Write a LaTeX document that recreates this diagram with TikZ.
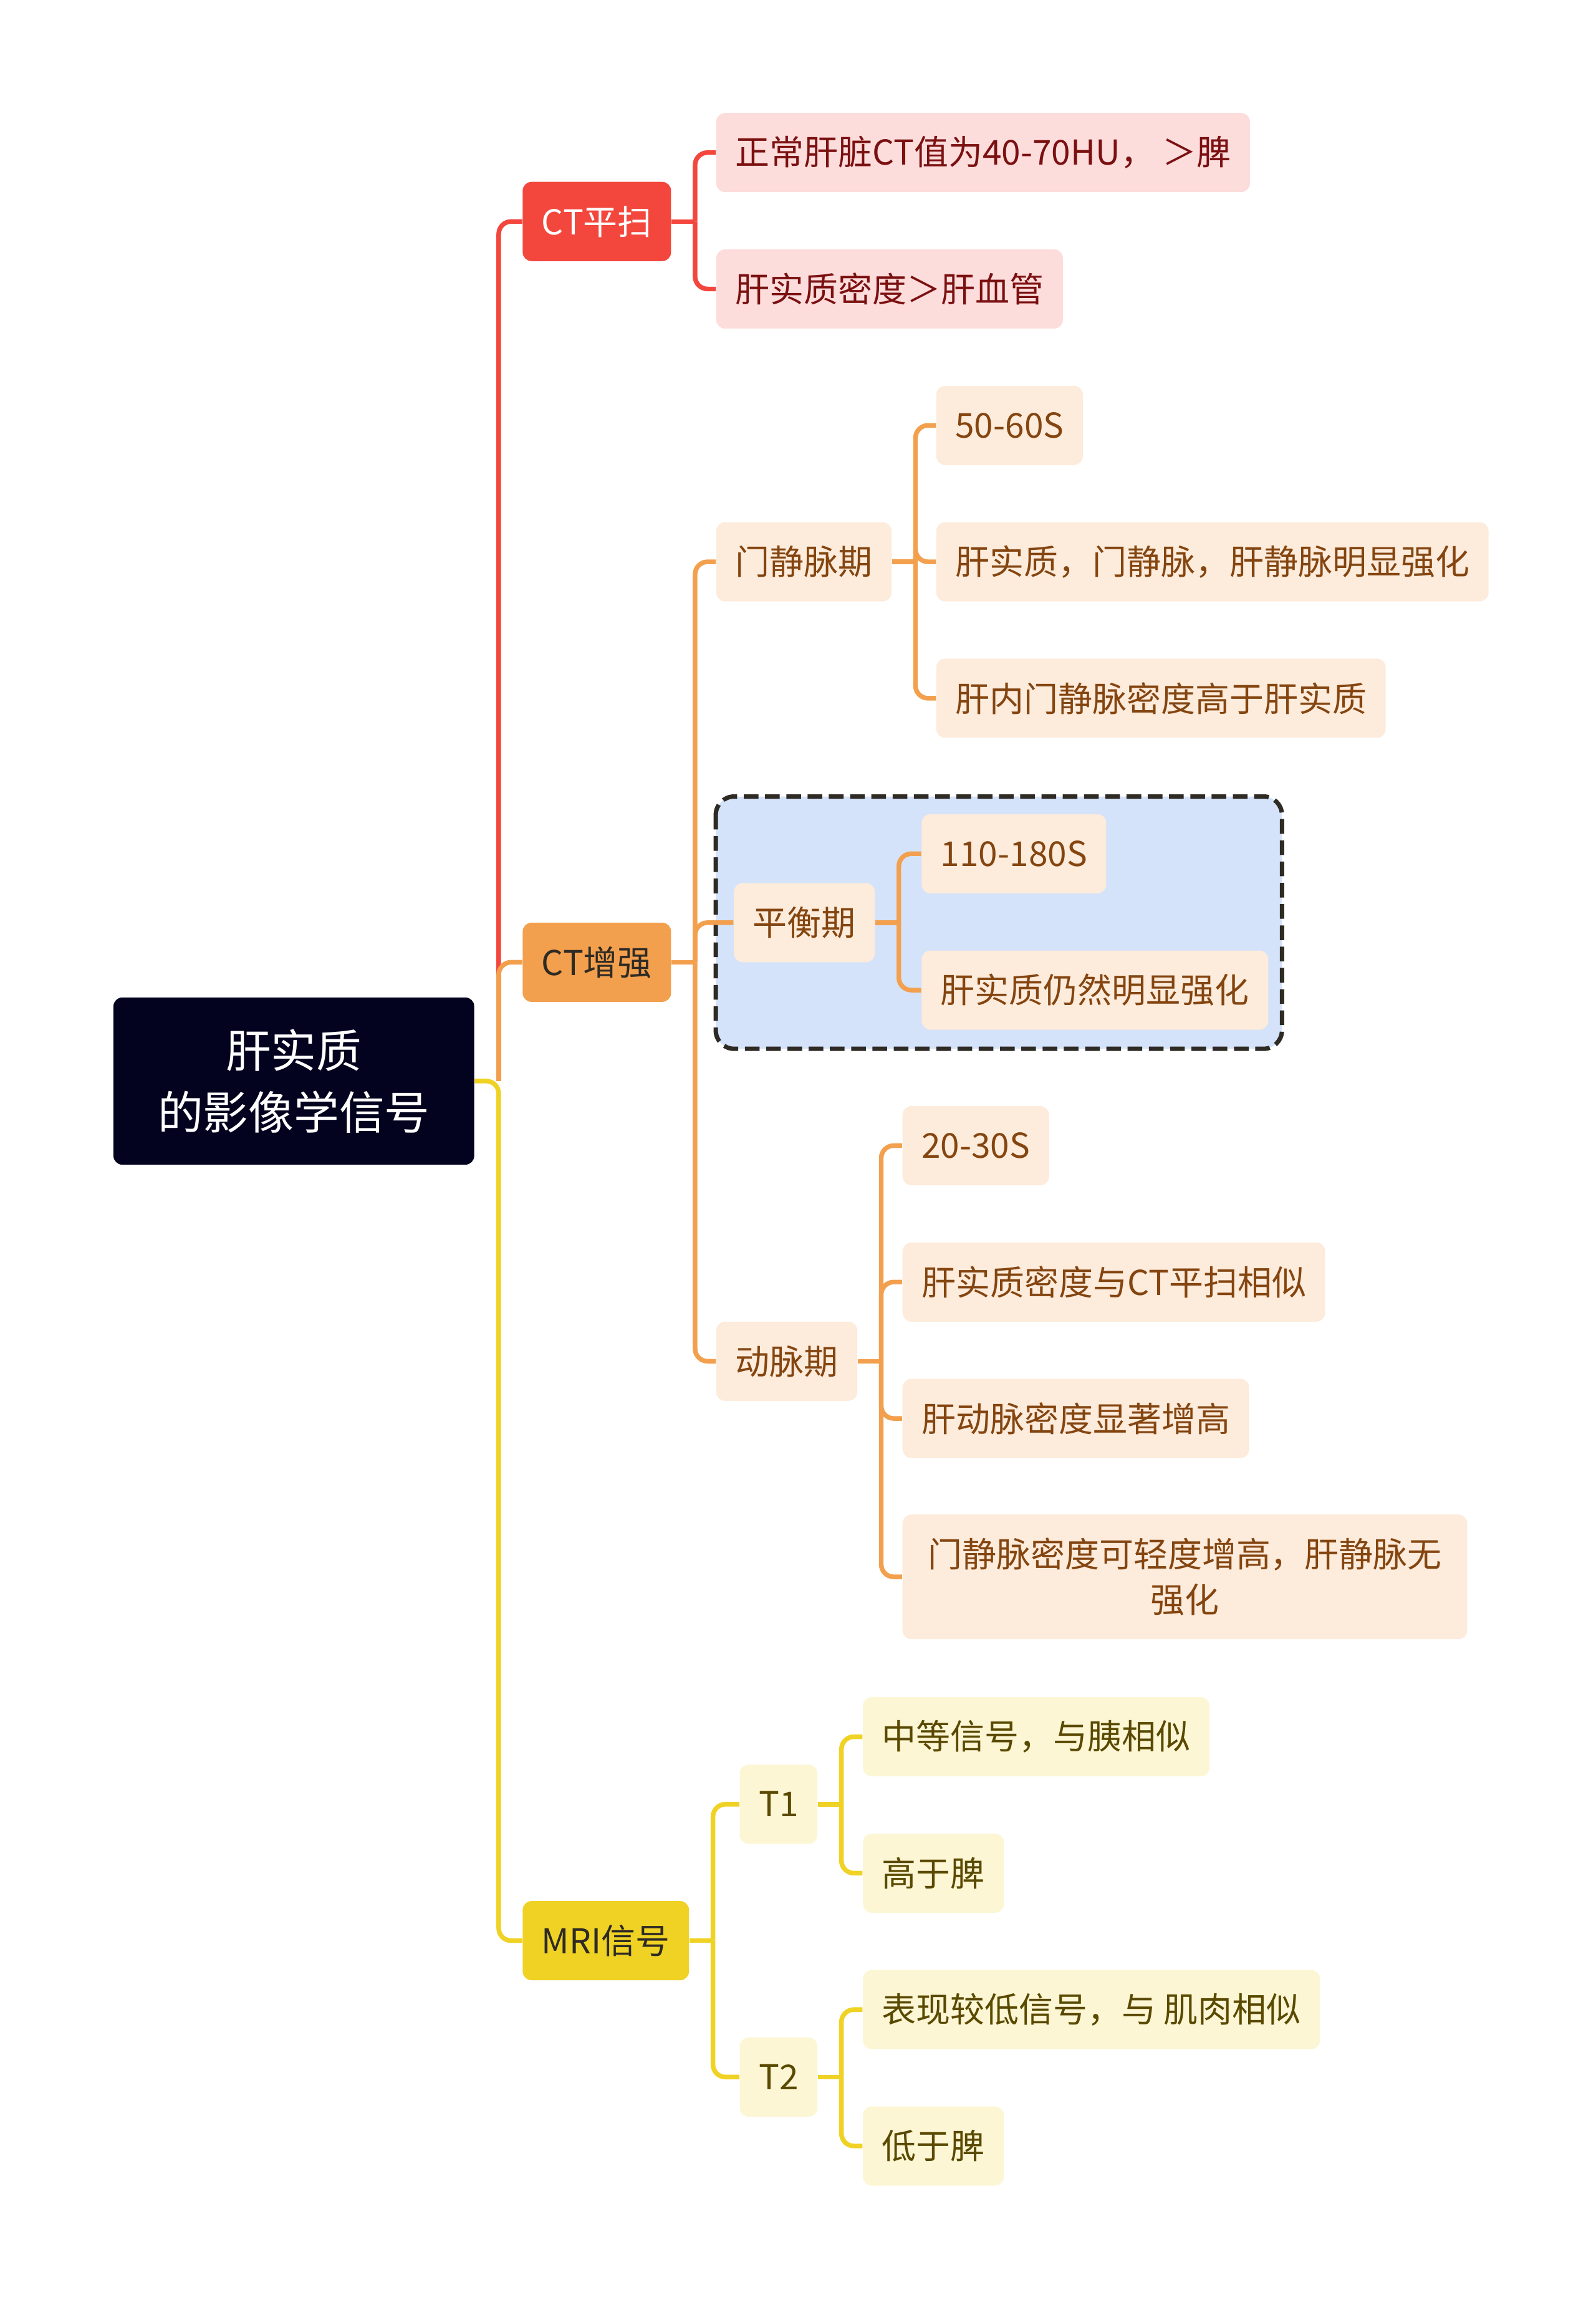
\documentclass[tikz,border=0pt]{standalone}
\usepackage{fontspec}
\setmainfont{Noto Sans CJK SC}
\usetikzlibrary{positioning}

\definecolor{rootfill}{HTML}{03031F}
\definecolor{redline}{HTML}{F3473E}
\definecolor{pinkfill}{HTML}{FDDCDC}
\definecolor{pinktext}{HTML}{7B1010}
\definecolor{orangeline}{HTML}{F3A04E}
\definecolor{peachfill}{HTML}{FDEBDB}
\definecolor{browntext}{HTML}{844510}
\definecolor{yellowline}{HTML}{F0D224}
\definecolor{creamfill}{HTML}{FCF6D4}
\definecolor{olivetext}{HTML}{5A4900}
\definecolor{bluefill}{HTML}{D4E3FA}
\definecolor{darktext}{HTML}{2E2A24}

\begin{document}
\begin{tikzpicture}[
				x=0.02cm, y=-0.02cm,
				every node/.style={font=\fontsize{13.3pt}{17.6pt}\selectfont},
				base/.style={rectangle, rounded corners=0.12cm, anchor=west, minimum height=1.08cm, inner xsep=0.26cm, inner ysep=0pt, align=center},
				rootbox/.style={base, fill=rootfill, text=white, minimum width=4.92cm, minimum height=2.28cm, font=\fontsize{17.6pt}{24pt}\selectfont},
				redmain/.style={base, fill=redline, text=white},
				orangemain/.style={base, fill=orangeline, text=darktext},
				yellowmain/.style={base, fill=yellowline, text=darktext},
				redsub/.style={base, fill=pinkfill, text=pinktext},
				orangesub/.style={base, fill=peachfill, text=browntext},
				yellowsub/.style={base, fill=creamfill, text=olivetext},
				groupbox/.style={draw=darktext, fill=bluefill, line width=1.7pt, rounded corners=0.25cm, dash pattern=on 0.2cm off 0.09cm},
				link/.style={line width=1.8pt, rounded corners=0.17cm}
				]
				\useasboundingbox (0,0) rectangle (1088,1568);

				% Group
				\draw [groupbox] (488,543) rectangle (874,715);

				% Nodes
				\node (root) [rootbox] at (77,737) {肝实质\\的影像学信号};

				\node (ctplain) [redmain] at (356,151) {CT平扫};
				\node (ctenh) [orangemain] at (356,656) {CT增强};
				\node (mri) [yellowmain] at (356,1323) {MRI信号};

				\node (normal) [redsub] at (488,104) {正常肝脏CT值为40-70HU， ＞脾};
				\node (density) [redsub] at (488,197) {肝实质密度＞肝血管};

				\node (portal) [orangesub] at (488,383) {门静脉期};
				\node (portaltime) [orangesub] at (638,290) {50-60S};
				\node (portalenh) [orangesub] at (638,383) {肝实质，门静脉，肝静脉明显强化};
				\node (portalvein) [orangesub] at (638,476) {肝内门静脉密度高于肝实质};

				\node (balance) [orangesub] at (500,629) {平衡期};
				\node (balancetime) [orangesub] at (628,582) {110-180S};
				\node (balanceenh) [orangesub] at (628,675) {肝实质仍然明显强化};

				\node (arterial) [orangesub] at (488,928) {动脉期};
				\node (arttime) [orangesub] at (615,781) {20-30S};
				\node (artsimilar) [orangesub] at (615,874) {肝实质密度与CT平扫相似};
				\node (artup) [orangesub] at (615,967) {肝动脉密度显著增高};
				\node (artportal) [orangesub, text width=7.18cm, minimum height=1.7cm] at (615,1075) {门静脉密度可轻度增高，肝静脉无\\强化};

				\node (tone) [yellowsub] at (504,1230) {T1};
				\node (tonemid) [yellowsub] at (588,1184) {中等信号，与胰相似};
				\node (tonehigh) [yellowsub] at (588,1277) {高于脾};
				\node (ttwo) [yellowsub] at (504,1416) {T2};
				\node (ttwolow) [yellowsub] at (588,1370) {表现较低信号，与 肌肉相似};
				\node (ttwospleen) [yellowsub] at (588,1463) {低于脾};

				% Arrows
				\coordinate (rootj) at (340,737);
				\draw [link, redline] (rootj) |- (ctplain.west);
				\draw [link, orangeline] (rootj) |- (ctenh.west);
				\draw [link, yellowline] (root.east) -- (rootj) |- (mri.west);

				\draw [link, redline] (ctplain.east) -- ++(16,0) coordinate (plainj);
				\draw [link, redline] (plainj) |- (normal.west);
				\draw [link, redline] (plainj) |- (density.west);

				\draw [link, orangeline] (ctenh.east) -- ++(16,0) coordinate (enhj);
				\draw [link, orangeline] (enhj) |- (portal.west);
				\draw [link, orangeline] (enhj) |- (balance.west);
				\draw [link, orangeline] (enhj) |- (arterial.west);

				\draw [link, orangeline] (portal.east) -- ++(16,0) coordinate (portalj);
				\draw [link, orangeline] (portalj) |- (portaltime.west);
				\draw [link, orangeline] (portalj) |- (portalenh.west);
				\draw [link, orangeline] (portalj) |- (portalvein.west);

				\draw [link, orangeline] (balance.east) -- ++(16,0) coordinate (balancej);
				\draw [link, orangeline] (balancej) |- (balancetime.west);
				\draw [link, orangeline] (balancej) |- (balanceenh.west);

				\draw [link, orangeline] (arterial.east) -- ++(16,0) coordinate (artj);
				\draw [link, orangeline] (artj) |- (arttime.west);
				\draw [link, orangeline] (artj) |- (artsimilar.west);
				\draw [link, orangeline] (artj) |- (artup.west);
				\draw [link, orangeline] (artj) |- (artportal.west);

				\draw [link, yellowline] (mri.east) -- ++(16,0) coordinate (mrij);
				\draw [link, yellowline] (mrij) |- (tone.west);
				\draw [link, yellowline] (mrij) |- (ttwo.west);

				\draw [link, yellowline] (tone.east) -- ++(16,0) coordinate (tonej);
				\draw [link, yellowline] (tonej) |- (tonemid.west);
				\draw [link, yellowline] (tonej) |- (tonehigh.west);

				\draw [link, yellowline] (ttwo.east) -- ++(16,0) coordinate (ttwoj);
				\draw [link, yellowline] (ttwoj) |- (ttwolow.west);
				\draw [link, yellowline] (ttwoj) |- (ttwospleen.west);
			\end{tikzpicture}
\end{document}
